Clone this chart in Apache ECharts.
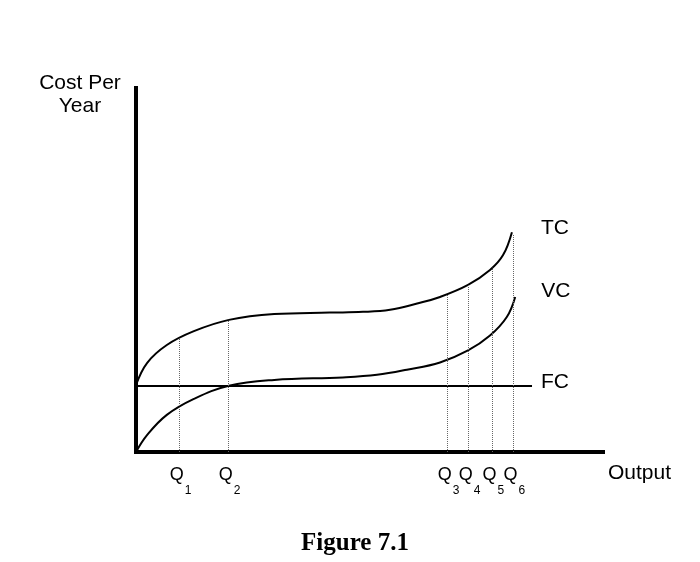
<!DOCTYPE html>
<html lang="en">
  <head>
    <meta charset="UTF-8" />
    <title>Figure 7.1</title>
    <script src="https://cdn.jsdelivr.net/npm/echarts@6.0.0/dist/echarts.min.js"></script>
    <style>
      body { margin: 0; background: #fff; }
    </style>
  </head>
  <body>
    <div id="main" style="width: 700px; height: 562px"></div>

    <script>
      // output (0-100) vs cost per year (0-100)
      var tcData = [
        [0, 18.4], [2.4, 24.5], [6.6, 29.4], [12.4, 33.2], [19.9, 36.3], [29.6, 37.9],
        [41.5, 38.3], [48.6, 38.5], [54.4, 39.1], [60.2, 40.8], [65.1, 42.6],
        [71.1, 45.9], [75.8, 50.0], [78.6, 54.1], [80.5, 60.4]
      ]
      var vcData = [
        [0, 0], [2.4, 4.7], [6.6, 10.2], [12.4, 14.6], [19.9, 18.2], [29.6, 19.8],
        [44.3, 20.5], [51.6, 21.2], [58.0, 22.6], [65.1, 24.6], [71.1, 27.9],
        [75.8, 32.0], [79.4, 37.1], [81.2, 42.6]
      ]
      var fcData = [[0, 18.1], [84.8, 18.1]]

      // Q markers and the height their dotted line reaches (on TC)
      var qNames = ["1", "2", "3", "4", "5", "6"]
      var qValues = [9.2, 19.7, 66.6, 71.1, 76.2, 80.7]
      var qTops = [31.3, 36.3, 43.3, 45.9, 50.6, 59.8]

      var font = "Liberation Sans"
      var chart = echarts.init(document.getElementById("main"))

      var option = {
        animation: false,
        grid: { left: 136, top: 88, width: 467, bottom: 110 },
        xAxis: {
          type: "value",
          min: 0,
          max: 100,
          splitLine: { show: false },
          axisTick: { show: false },
          axisLabel: { show: false },
          axisLine: { lineStyle: { color: "#000", width: 4, cap: "square" } }
        },
        yAxis: {
          type: "value",
          min: 0,
          max: 100,
          splitLine: { show: false },
          axisTick: { show: false },
          axisLabel: { show: false },
          axisLine: { show: true, lineStyle: { color: "#000", width: 4, cap: "square" } }
        },
        series: [
          {
            name: "TC",
            type: "line",
            data: tcData,
            smooth: 0.4,
            symbol: "none",
            lineStyle: { color: "#000", width: 2 },
            endLabel: {
              show: true, formatter: "TC", distance: 29, offset: [0, -4],
              fontFamily: font, fontSize: 21, color: "#000"
            },
            markLine: {
              silent: true,
              symbol: "none",
              label: { show: false },
              lineStyle: { color: "#666", width: 1, type: "dotted" },
              data: qValues.map(function (q, i) {
                return [{ coord: [q, 0] }, { coord: [q, qTops[i]] }]
              })
            }
          },
          {
            name: "VC",
            type: "line",
            data: vcData,
            smooth: 0.4,
            symbol: "none",
            lineStyle: { color: "#000", width: 2 },
            endLabel: {
              show: true, formatter: "VC", distance: 26, offset: [0, -6],
              fontFamily: font, fontSize: 21, color: "#000"
            }
          },
          {
            name: "FC",
            type: "line",
            data: fcData,
            symbol: "none",
            lineStyle: { color: "#000", width: 2 },
            endLabel: {
              show: true, formatter: "FC", distance: 9, offset: [0, -4],
              fontFamily: font, fontSize: 21, color: "#000"
            }
          },
          {
            // Q labels under the output axis
            name: "Q",
            type: "scatter",
            silent: true,
            clip: false,
            symbol: "circle",
            symbolSize: 1,
            itemStyle: { color: "rgba(255,255,255,0)", opacity: 1 },
            data: qValues.map(function (q) { return [q, 0] }),
            label: {
              show: true,
              position: "bottom",
              distance: 2,
              color: "#000",
              formatter: function (p) {
                return "{q|Q}{s|" + qNames[p.dataIndex] + "}"
              },
              rich: {
                q: { fontFamily: font, fontSize: 18, color: "#000", padding: [0, 0, 0, 3] },
                s: { fontFamily: font, fontSize: 12, color: "#000", padding: [30, 0, 0, 1] }
              }
            },
            labelLayout: { hideOverlap: false }
          }
        ],
        graphic: [
          {
            type: "text", x: 80, y: 72,
            style: {
              text: "Cost Per\nYear", align: "center",
              font: "21px " + font, lineHeight: 23, fill: "#000"
            }
          },
          {
            type: "text", x: 608, y: 463,
            style: { text: "Output", font: "21px " + font, fill: "#000" }
          },
          {
            type: "text", x: 355, y: 531,
            style: { text: "Figure 7.1", align: "center", font: "bold 25px Liberation Serif", fill: "#000" }
          }
        ]
      }
      chart.setOption(option)
    </script>
  </body>
</html>
